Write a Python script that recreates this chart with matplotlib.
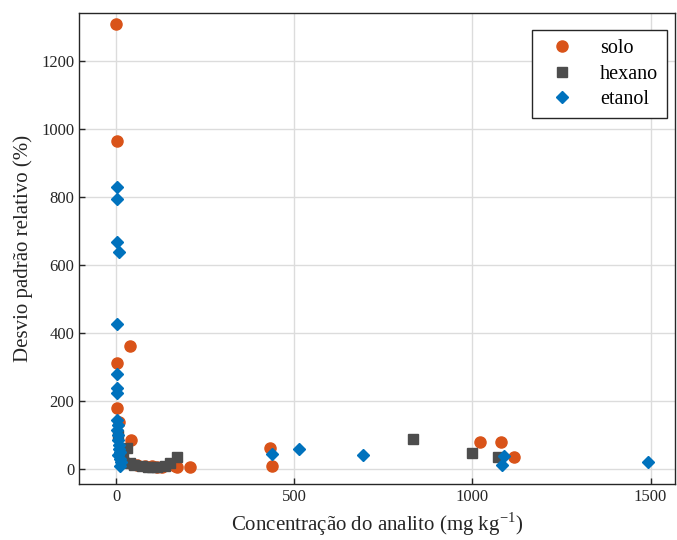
import matplotlib.pyplot as plt
import numpy as np

plt.rcParams['font.family'] = ['Liberation Serif', 'DejaVu Serif']
plt.rcParams['mathtext.fontset'] = 'custom'
plt.rcParams['mathtext.rm'] = 'Liberation Serif'

solo_x = [1, 3, 3, 39, 3, 8, 42, 15, 25, 45, 60, 80, 100, 115, 128, 165, 170, 208, 431, 437, 1022, 1081, 1118]
solo_y = [1309, 965, 312, 362, 180, 138, 85, 30, 20, 15, 12, 10, 8, 6, 5, 10, 6, 6, 62, 9, 79, 79, 35]

hexano_x = [5, 30, 20, 39, 50, 73, 90, 100, 115, 137, 150, 170, 832, 1000, 1073]
hexano_y = [100, 62, 40, 18, 12, 8, 6, 6, 7, 10, 18, 35, 88, 47, 35]

etanol_x = [2, 3, 3, 2, 8, 2, 3, 4, 3, 5, 4, 6, 5, 7, 8, 10, 6, 12, 15, 10,
            437, 513, 694, 1084, 1090, 1493]
etanol_y = [829, 794, 668, 426, 638, 279, 238, 224, 144, 130, 115, 100, 85, 70, 60, 50, 40, 30, 20, 10,
            44, 59, 41, 12, 38, 21]

fig = plt.figure(figsize=(6.77, 5.4), dpi=100)
ax = fig.add_axes([0.1167, 0.1037, 0.880, 0.872])

ax.plot(solo_x, solo_y, 'o', color='#D95319', ms=8, mec='#D95319', label='solo', zorder=3)
ax.plot(hexano_x, hexano_y, 's', color='#4D4D4D', ms=6.5, mec='#4D4D4D', label='hexano', zorder=3)
ax.plot(etanol_x, etanol_y, 'D', color='#0072BD', ms=6.5, mec='#0072BD', label='etanol', zorder=3)

ax.set_xlim(-104, 1568)
ax.set_ylim(-44, 1341)
ax.set_xticks([0, 500, 1000, 1500])
ax.set_yticks(np.arange(0, 1201, 200))
ax.grid(True, color='#DCDCDC', lw=1)
ax.set_axisbelow(True)
ax.tick_params(direction='in', length=4, width=1, labelsize=12, colors='#262626', top=False, right=False)
for s in ax.spines.values():
    s.set_color('#262626')
    s.set_linewidth(1)

ax.set_xlabel('Concentração do analito (mg kg$^{-1}$)', fontsize=15, color='#262626', labelpad=4)
ax.set_ylabel('Desvio padrão relativo (%)', fontsize=15, color='#262626', labelpad=6)

leg = ax.legend(loc='upper right', bbox_to_anchor=(667 / 677, 1 - 30 / 540), bbox_transform=fig.transFigure,
                fontsize=14.5, fancybox=False, edgecolor='#262626',
                framealpha=1, borderaxespad=0, handletextpad=0.9, borderpad=0.45,
                labelspacing=0.32, handlelength=2.0)
leg.get_frame().set_linewidth(1)

plt.savefig('out.png', dpi=100)
